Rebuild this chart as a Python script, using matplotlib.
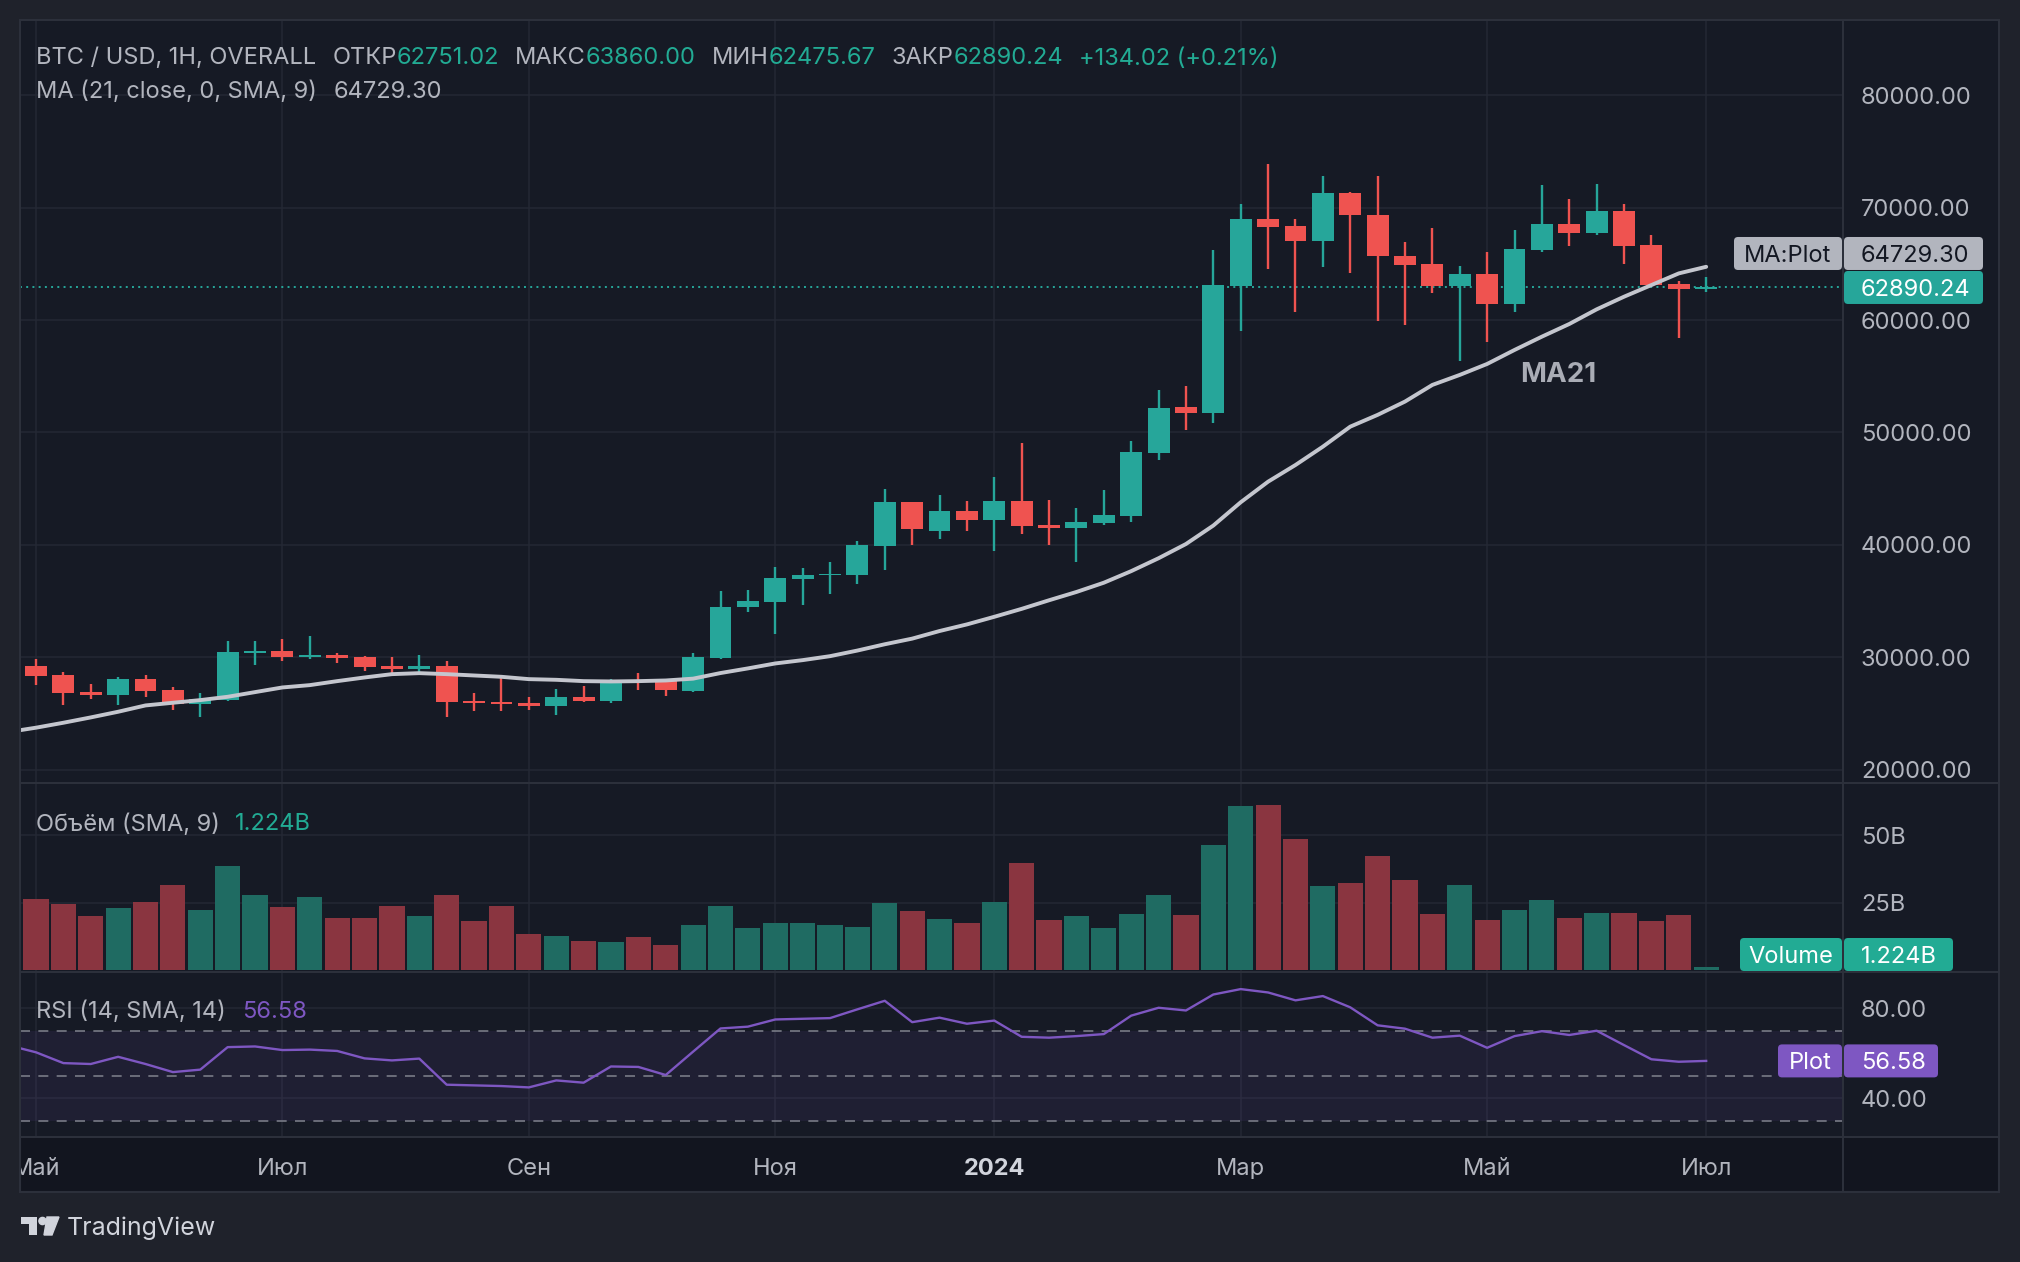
import matplotlib
matplotlib.use('Agg')
import matplotlib.pyplot as plt
import numpy as np
import pandas as pd
from matplotlib.patches import Rectangle, FancyBboxPatch, Polygon, Circle
from matplotlib.transforms import IdentityTransform

plt.rcParams['font.family'] = ['Inter', 'DejaVu Sans']

# ---------------- data (weekly BTC/USD) ----------------
start_date = '2023-05-01'
opens = [29231, 28432, 26923, 26656, 28077, 27100, 25887, 26212, 30414, 30562,
         30059, 30207, 30030, 29231, 28964, 29231, 26124, 26035, 25946, 25680,
         26479, 26124, 27988, 27950, 27050, 29971, 34471, 34971, 37000, 37324,
         37353, 39912, 43794, 41235, 43000, 42206, 43882, 41765, 41500, 41941,
         42559, 48206, 52277, 51744, 63018, 68966, 68344, 67013, 71274, 69321,
         65681, 64971, 63018, 64083, 61420, 66214, 68522, 67723, 69676, 66658,
         63196, 62751.02]
highs = [29852, 28698, 27633, 28254, 28432, 27337, 26834, 31450, 31450, 31627,
         31894, 30385, 30118, 30030, 30207, 29675, 26834, 28165, 26479, 27189,
         27455, 28077, 28609, 28030, 30420, 35941, 36029, 38059, 37971, 38500,
         40353, 44941, 43850, 44412, 43882, 46000, 49088, 43970, 43265, 44853,
         49265, 53786, 54141, 66214, 70297, 73848, 68966, 72783, 71363, 72783,
         66924, 68167, 64794, 66036, 67989, 71984, 70741, 72073, 70297, 67545,
         63462, 63860.00]
lows = [27544, 25769, 26301, 25769, 26479, 25325, 24703, 26124, 29319, 29675,
        29852, 29497, 28787, 28432, 28609, 24703, 25236, 25236, 25325, 24881,
        26035, 25946, 27100, 26600, 26960, 29900, 34088, 32059, 34706, 35677,
        36559, 37794, 40000, 40529, 41235, 39471, 40971, 40000, 38500, 41765,
        42029, 47588, 50235, 50857, 59024, 64527, 60710, 64705, 64172, 59911,
        59556, 62397, 56360, 58047, 60710, 66036, 66569, 67545, 64971, 63000,
        58402, 62475.67]
closes = [28343, 26834, 26686, 28077, 27011, 25887, 26301, 30473, 30562, 30030,
          30207, 29941, 29142, 28964, 29231, 26035, 25946, 25887, 25680, 26479,
          26124, 27988, 27810, 27080, 30000, 34530, 35059, 37088, 37353, 37441,
          40000, 43794, 41412, 43000, 42206, 43882, 41676, 41500, 42029, 42647,
          48294, 52188, 51744, 63107, 68966, 68256, 67013, 71274, 69321, 65681,
          64882, 63018, 64083, 61420, 66303, 68522, 67723, 69676, 66569, 63107,
          62756.22, 62890.24]
# 21-week SMA of close (first value = week before the first candle)
ma_prev = 23380
ma21 = [23760, 24200, 24674, 25177, 25739, 25976, 26212, 26508, 26923, 27337,
        27544, 27899, 28225, 28520, 28609, 28520, 28402, 28284, 28077, 28017,
        27899, 27870, 27899, 27958, 28120, 28618, 29030, 29471, 29765, 30118,
        30618, 31177, 31677, 32353, 32941, 33618, 34324, 35088, 35824, 36647,
        37677, 38824, 40088, 41730, 43800, 45630, 47111, 48740, 50519, 51567,
        52750, 54230, 55118, 56094, 57337, 58520, 59645, 60947, 62071, 63107,
        64143, 64729.30]
# volume, billions
vol_prev = 34.3
volume = [26.4, 24.5, 20.1, 23.0, 25.3, 31.6, 22.3, 38.6, 27.9, 23.4,
          27.1, 19.3, 19.3, 23.8, 20.1, 27.9, 18.2, 23.8, 13.4, 12.6,
          10.8, 10.4, 12.3, 9.3, 16.7, 23.8, 15.6, 17.5, 17.5, 16.7,
          16.0, 24.9, 21.9, 18.9, 17.5, 25.3, 39.7, 18.6, 20.1, 15.6,
          20.8, 27.9, 20.4, 46.4, 60.9, 61.3, 48.7, 31.2, 32.3, 42.3,
          33.4, 20.8, 31.6, 18.6, 22.3, 26.0, 19.3, 21.2, 21.2, 18.2,
          20.4, 1.224]
rsi_prev = 63.5
rsi = [60.4, 55.6, 55.2, 58.4, 55.2, 51.6, 52.7, 62.7, 63.0, 61.4,
       61.6, 61.0, 57.7, 56.8, 57.6, 46.0, 45.7, 45.4, 44.8, 47.9,
       46.9, 54.1, 53.9, 50.3, 60.7, 71.0, 71.8, 75.0, 75.3, 75.6,
       79.5, 83.3, 73.8, 75.8, 73.1, 74.5, 67.3, 66.9, 67.6, 68.5,
       76.7, 80.2, 79.0, 86.1, 88.5, 87.0, 83.5, 85.4, 80.4, 72.4,
       70.9, 66.9, 67.8, 62.4, 67.6, 69.8, 68.1, 70.0, 63.6, 57.3,
       56.2, 56.58]
price_ticks = [20000, 30000, 40000, 50000, 60000, 70000, 80000]
vol_ticks = [25, 50]
rsi_ticks = [40, 80]
rsi_levels = [30, 50, 70]
month_names = {1: None, 3: 'Мар', 5: 'Май', 7: 'Июл', 9: 'Сен', 11: 'Ноя'}

# ---------------- style ----------------
W, H, DPI = 2020, 1262, 100
OUTER = '#1f222b'
PANE = '#161a25'
TIME_BG = '#12151f'
GRID = '#242834'
SEP = '#2c303b'
UP = '#26a69a'
DOWN = '#ef5350'
UP_V = '#1f6b62'
DOWN_V = '#8a3540'
TEAL = '#22ab94'
GRAY = '#b2b5be'
PURPLE = '#7e57c2'
MA_COL = '#c4c6ce'
FS = 17
TXT_DY = 2.5

fig = plt.figure(figsize=(W / DPI, H / DPI), dpi=DPI)
fig.patch.set_facecolor(OUTER)

L, R, AX_R = 20, 1843, 1999
T_MAIN, B_MAIN, B_VOL, B_RSI, B_TIME = 20, 783, 972, 1137, 1192


def prect(x0, y0, x1, y1, z=-1, **kw):
    r = Rectangle((x0, H - y1), x1 - x0, y1 - y0, transform=IdentityTransform(), zorder=z, **kw)
    fig.add_artist(r)
    return r


def add_ax(x0, y0, x1, y1, bg=PANE):
    ax = fig.add_axes([x0 / W, 1 - y1 / H, (x1 - x0) / W, (y1 - y0) / H])
    ax.set_facecolor(bg)
    for s in ax.spines.values():
        s.set_visible(False)
    ax.set_xticks([])
    ax.set_yticks([])
    return ax


# frame background
prect(L, T_MAIN, AX_R, B_TIME, facecolor=PANE, edgecolor='none')
prect(L, B_RSI, AX_R, B_TIME, facecolor=TIME_BG, edgecolor='none')

n = len(closes)
idx = np.arange(n)
x0_lim = (L - 36) / 27.38
x1_lim = (R - 36) / 27.38

dates = pd.date_range(start_date, periods=n, freq='7D')
tick_idx, tick_lab = [], []
for i, d in enumerate(dates):
    if (i == 0 or d.month != dates[i - 1].month) and d.month in month_names:
        tick_idx.append(i)
        tick_lab.append(str(d.year) if d.month == 1 else month_names[d.month])

ax = add_ax(L, T_MAIN, R, B_MAIN)
axv = add_ax(L, B_MAIN, R, B_VOL)
axr = add_ax(L, B_VOL, R, B_RSI)
axt = add_ax(L, B_RSI, R, B_TIME, bg=TIME_BG)

for a in (ax, axv, axr, axt):
    a.set_xlim(x0_lim, x1_lim)
ax.set_ylim(18844, 86667)
axv.set_ylim(-0.74, 69.36)
axr.set_ylim(22.75, 96.1)
axt.set_ylim(0, 1)

# grids
for a in (ax, axv, axr):
    for ti in tick_idx:
        a.axvline(ti, color=GRID, lw=1.1, zorder=0)
for p in price_ticks:
    ax.axhline(p, color=GRID, lw=1.1, zorder=0)
for v in vol_ticks:
    axv.axhline(v, color=GRID, lw=1.1, zorder=0)
for v in rsi_ticks:
    axr.axhline(v, color=GRID, lw=1.1, zorder=0)

# candles
o = np.array(opens); c = np.array(closes); hi = np.array(highs); lo = np.array(lows)
up = c >= o
cols = np.where(up, UP, DOWN)
ax.vlines(idx, lo, hi, colors=cols, lw=1.7, zorder=2)
body_h = np.maximum(np.abs(c - o), 90)
ax.bar(idx, body_h, bottom=np.minimum(o, c), width=0.8, color=cols, linewidth=0, zorder=3)

# MA
ax.plot(np.concatenate([[-1], idx]), [ma_prev] + ma21, color=MA_COL, lw=2.8,
        solid_capstyle='round', solid_joinstyle='round', zorder=4)

# last price line
ax.axhline(closes[-1], color=UP, lw=1.4, ls=(0, (1, 2.2)), zorder=1)

# volume
vcols = [UP_V] + list(np.where(up, UP_V, DOWN_V))
axv.bar(np.concatenate([[-1], idx]), [vol_prev] + volume, width=0.92, color=vcols,
        linewidth=0, zorder=2)

# RSI
axr.axhspan(rsi_levels[0], rsi_levels[-1], color=PURPLE, alpha=0.09, lw=0, zorder=0)
for lv in rsi_levels:
    axr.axhline(lv, color='#787b86', lw=1.2, ls=(0, (6, 5)), zorder=1)
axr.plot(np.concatenate([[-1], idx]), [rsi_prev] + rsi, color=PURPLE, lw=1.7, zorder=3)

# time axis labels
for ti, lab in zip(tick_idx, tick_lab):
    bold = lab.isdigit()
    axt.text(ti, 0.42, lab, ha='center', va='center', fontsize=FS,
             color='#d1d4dc' if bold else GRAY, fontweight='bold' if bold else 'normal',
             clip_on=True)

# separators
for y in (B_MAIN, B_VOL):
    prect(L, y - 1, AX_R, y + 1, z=6, facecolor=SEP, edgecolor='none')
prect(L, B_RSI - 1, AX_R, B_RSI + 1, z=6, facecolor=SEP, edgecolor='none')
prect(R - 1, T_MAIN, R + 1, B_TIME, z=6, facecolor=SEP, edgecolor='none')
prect(L, T_MAIN, AX_R, B_TIME, z=6, facecolor='none', edgecolor=SEP, lw=1.5)


def py(a, v):
    return H - a.transData.transform((0, v))[1]


def ftext(x, y, s, **kw):
    return fig.text(x / W, 1 - (y + TXT_DY) / H, s, **kw)


# right axis labels
LAB_X = 1861
for p in price_ticks:
    ftext(LAB_X, py(ax, p), f"{p:.2f}", ha='left', va='center', fontsize=FS, color=GRAY)
for v in vol_ticks:
    ftext(LAB_X, py(axv, v), f"{v}B", ha='left', va='center', fontsize=FS, color=GRAY)
for v in rsi_ticks:
    ftext(LAB_X, py(axr, v), f"{v:.2f}", ha='left', va='center', fontsize=FS, color=GRAY)


def box(x0, x1, yc, h, color, z=7):
    b = FancyBboxPatch((x0, H - yc - h / 2), x1 - x0, h, boxstyle='round,pad=0,rounding_size=4',
                       transform=IdentityTransform(), facecolor=color, edgecolor='none', zorder=z)
    fig.add_artist(b)


BH = 33
# price label
yc_p = py(ax, closes[-1])
box(1844, 1983, yc_p, BH, UP)
ftext(LAB_X, yc_p, f"{closes[-1]:.2f}", ha='left', va='center', fontsize=FS, color='white', zorder=8)
# MA label
yc_m = py(ax, ma21[-1])
if yc_m > yc_p - BH - 1:
    yc_m = yc_p - BH - 1
box(1734, 1842, yc_m, BH, GRAY)
box(1844, 1983, yc_m, BH, GRAY)
ftext(1788, yc_m, 'MA:Plot', ha='center', va='center', fontsize=FS, color='#131722', zorder=8)
ftext(LAB_X, yc_m, f"{ma21[-1]:.2f}", ha='left', va='center', fontsize=FS, color='#131722', zorder=8)
# volume label
yc_v = min(py(axv, volume[-1]), B_VOL - 1 - BH / 2)
box(1740, 1842, yc_v, BH, TEAL)
box(1844, 1953, yc_v, BH, TEAL)
ftext(1791, yc_v, 'Volume', ha='center', va='center', fontsize=FS, color='white', zorder=8)
ftext(LAB_X, yc_v, f"{volume[-1]:.3f}B", ha='left', va='center', fontsize=FS, color='white', zorder=8)
# RSI label
yc_r = py(axr, rsi[-1])
box(1778, 1842, yc_r, BH, PURPLE)
box(1844, 1938, yc_r, BH, PURPLE)
ftext(1810, yc_r, 'Plot', ha='center', va='center', fontsize=FS, color='white', zorder=8)
ftext(LAB_X, yc_r, f"{rsi[-1]:.2f}", ha='left', va='center', fontsize=FS, color='white', zorder=8)

# MA21 annotation
ftext(1558, 372, 'MA21', ha='center', va='center', fontsize=20, fontweight='bold', color='#a9acb5')

# legend lines (sequential text)
renderer = fig.canvas.get_renderer()


def seq_text(x, y, pieces, size=FS):
    for s, color, gap in pieces:
        t = ftext(x, y, s, ha='left', va='center', fontsize=size, color=color, zorder=8)
        x += t.get_window_extent(renderer=renderer).width + gap


chg = closes[-1] - closes[-2]
pct = chg / closes[-2] * 100
seq_text(36, 56, [
    ('BTC / USD, 1H, OVERALL', GRAY, 16),
    ('ОТКР', GRAY, 0), (f"{opens[-1]:.2f}", TEAL, 16),
    ('МАКС', GRAY, 0), (f"{highs[-1]:.2f}", TEAL, 16),
    ('МИН', GRAY, 0), (f"{lows[-1]:.2f}", TEAL, 16),
    ('ЗАКР', GRAY, 0), (f"{closes[-1]:.2f}", TEAL, 16),
    (f"{chg:+.2f} ({pct:+.2f}%)", TEAL, 0)])
seq_text(36, 89, [('MA (21, close, 0, SMA, 9)', GRAY, 17), (f"{ma21[-1]:.2f}", GRAY, 0)])
seq_text(36, 822, [('Объём (SMA, 9)', GRAY, 15), (f"{volume[-1]:.3f}B", TEAL, 0)])
seq_text(36, 1009, [('RSI (14, SMA, 14)', GRAY, 16), (f"{rsi[-1]:.2f}", PURPLE, 0)])

# TradingView logo
LOGO = '#d1d4dc'
prect(21, 1217, 37, 1224, z=8, facecolor=LOGO, edgecolor='none')
prect(29, 1217, 37, 1235, z=8, facecolor=LOGO, edgecolor='none')
fig.add_artist(Circle((42.5, H - 1221), 3.6, transform=IdentityTransform(), color=LOGO, zorder=8))
fig.add_artist(Polygon([(47, H - 1217), (59, H - 1217), (52, H - 1235), (44, H - 1235)],
                       closed=True, transform=IdentityTransform(), color=LOGO, zorder=8))
ftext(67, 1226, 'TradingView', ha='left', va='center', fontsize=18, color=LOGO)

fig.savefig('out.png', dpi=DPI, facecolor=OUTER)
